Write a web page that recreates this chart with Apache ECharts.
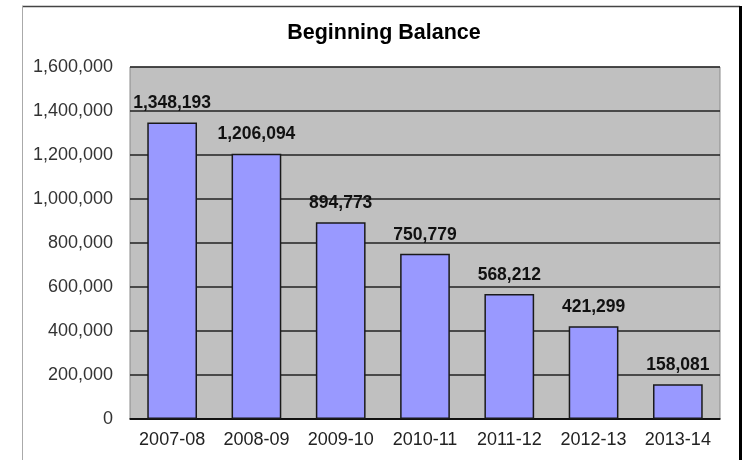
<!DOCTYPE html>
<html>
<head>
<meta charset="utf-8">
<script src="https://cdn.jsdelivr.net/npm/echarts@6/dist/echarts.min.js"></script>
<style>
html,body{margin:0;padding:0;background:#fff;}
#c{width:744px;height:460px;}
</style>
</head>
<body>
<div id="c"></div>
<script>
var categories = ['2007-08','2008-09','2009-10','2010-11','2011-12','2012-13','2013-14'];
var beginningBalance = [1348193, 1206094, 894773, 750779, 568212, 421299, 158081];
var titleText = 'Beginning Balance';
var yMin = 0, yMax = 1600000, yStep = 200000;

function fmt(v){ return Number(v).toLocaleString('en-US'); }

var chart = echarts.init(document.getElementById('c'));
chart.setOption({
  animation: false,
  backgroundColor: '#ffffff',
  title: {
    text: titleText,
    left: 379, top: 17,
    textAlign: 'center',
    textStyle: { fontFamily: 'Liberation Sans, Arial, sans-serif', fontSize: 21.5, fontWeight: 'bold', color: '#000' }
  },
  grid: {
    left: 130, right: 24, top: 67, bottom: 41,
    show: true, backgroundColor: '#C0C0C0', borderColor: '#8a8a8a', borderWidth: 1
  },
  xAxis: {
    type: 'category',
    data: categories,
    axisLine: { show: true, lineStyle: { color: '#000', width: 1.5 } },
    axisTick: { show: false },
    axisLabel: { interval: 0, hideOverlap: false, margin: 12, fontFamily: 'Liberation Sans, Arial, sans-serif', fontSize: 18, color: '#222' }
  },
  yAxis: {
    type: 'value',
    min: yMin, max: yMax, interval: yStep,
    axisLine: { show: false },
    axisTick: { show: false },
    splitLine: { show: true, lineStyle: { color: '#222', width: 1.5 } },
    axisLabel: { margin: 17, fontFamily: 'Liberation Sans, Arial, sans-serif', fontSize: 18, color: '#333', formatter: function(v){ return fmt(v); } }
  },
  series: [{
    type: 'bar',
    data: beginningBalance,
    barWidth: '59%',
    itemStyle: { color: '#9999FF', borderColor: '#1a1a1a', borderWidth: 1.5 },
    label: {
      show: true, position: 'top', distance: 10,
      fontFamily: 'Liberation Sans, Arial, sans-serif', fontSize: 17.5, fontWeight: 'bold', color: '#111',
      formatter: function(p){ return fmt(p.value); }
    }
  }],
  graphic: [
    { type: 'line', shape: { x1: 22, y1: 6.5, x2: 740, y2: 6.5 }, style: { stroke: '#444', lineWidth: 1.5 } },
    { type: 'line', shape: { x1: 22.5, y1: 6, x2: 22.5, y2: 460 }, style: { stroke: '#aaa', lineWidth: 1 } },
    { type: 'line', shape: { x1: 740.5, y1: 6, x2: 740.5, y2: 460 }, style: { stroke: '#000', lineWidth: 3 } }
  ]
});
</script>
</body>
</html>
